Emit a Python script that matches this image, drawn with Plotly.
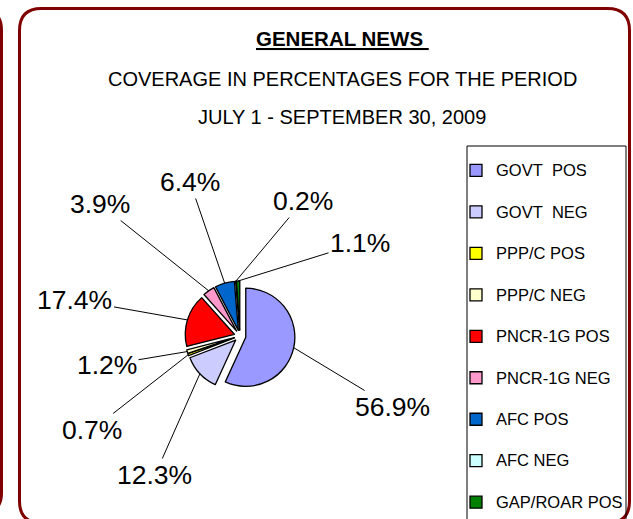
import math
import plotly.graph_objects as go

W, H = 633, 519

# ---- data ----
categories = ["GOVT\u00a0 POS", "GOVT\u00a0 NEG", "PPP/C POS", "PPP/C NEG", "PNCR-1G POS",
              "PNCR-1G NEG", "AFC POS", "AFC NEG", "GAP/ROAR POS"]
values = [56.9, 12.3, 0.7, 1.2, 17.4, 3.9, 6.4, 0.2, 1.1]
colors = ["#9999FF", "#CCCCFF", "#FFFF00", "#FFFFCC", "#FF0000",
          "#FF99CC", "#0066CC", "#CCFFFF", "#008000"]

title_line1 = "GENERAL NEWS"
title_line2 = "COVERAGE IN PERCENTAGES FOR THE PERIOD"
title_line3 = "JULY 1 - SEPTEMBER 30, 2009"

# ---- layout helpers (pixels -> paper) ----
def X(px):
    return px / W

def Y(py):
    return 1 - py / H

FONT = "Liberation Sans, Arial, sans-serif"

# pie geometry
cx, cy = 240, 336
pull = 0.12
half = 55
dom_x = [X(cx - half), X(cx + half)]
dom_y = [Y(cy + half), Y(cy - half)]
r = (2 * half) / (2 + 2 * pull)

# label text centres (pixels)
label_pos = [(392, 407), (155, 475), (92, 430), (107, 365), (75, 300),
             (100, 204), (190, 182), (303, 201), (360, 243)]

legend_labels = ["\u00a0<br><span style='font-size:16.5px'>%s</span>" % c for c in categories]

fig = go.Figure()
fig.add_trace(go.Pie(
    labels=legend_labels,
    values=values,
    sort=False,
    direction="clockwise",
    rotation=0,
    pull=[pull] * len(values),
    marker=dict(colors=colors, line=dict(color="black", width=1.3)),
    textinfo="none",
    hoverinfo="skip",
    domain=dict(x=dom_x, y=dom_y),
    showlegend=True,
))

# leader-line annotations computed from the values
total = sum(values)
annotations = []
cum = 0.0
for v, (lx, ly) in zip(values, label_pos):
    mid = (cum + v / 2) / total * 2 * math.pi
    cum += v
    rr = r * (1 + pull)
    axp = cx + rr * math.sin(mid)
    ayp = cy - rr * math.cos(mid)
    annotations.append(dict(
        x=X(axp), y=Y(ayp), xref="paper", yref="paper",
        text="%.1f%%" % v,
        showarrow=True, arrowhead=0, arrowwidth=1, arrowcolor="black",
        ax=lx - axp, ay=ly - ayp, standoff=0,
        font=dict(family=FONT, size=26.5, color="black"),
    ))

annotations += [
    dict(x=X(342), y=Y(38), xref="paper", yref="paper", showarrow=False,
         xanchor="center", yanchor="middle",
         text="<b><u>%s\u00a0</u></b>" % title_line1,
         font=dict(family=FONT, size=20.5, color="black")),
    dict(x=X(342), y=Y(79), xref="paper", yref="paper", showarrow=False,
         xanchor="center", yanchor="middle",
         text=title_line2, font=dict(family=FONT, size=20, color="black")),
    dict(x=X(342), y=Y(117), xref="paper", yref="paper", showarrow=False,
         xanchor="center", yanchor="middle",
         text=title_line3, font=dict(family=FONT, size=20, color="black")),
]

def rounded(x0, y0, x1, y1, rad):
    return ("M {a},{b} L {c},{b} Q {d},{b} {d},{e} L {d},{f} Q {d},{g} {c},{g} "
            "L {a},{g} Q {h},{g} {h},{f} L {h},{e} Q {h},{b} {a},{b} Z").format(
        a=X(x0 + rad), b=Y(y0), c=X(x1 - rad), d=X(x1), e=Y(y0 + rad),
        f=Y(y1 - rad), g=Y(y1), h=X(x0))

shapes = [
    dict(type="path", xref="paper", yref="paper", path=rounded(19.5, 8.5, 629.5, 523, 22),
         line=dict(color="#800000", width=3)),
    dict(type="path", xref="paper", yref="paper", path=rounded(-200, 10, 1.5, 513, 20),
         line=dict(color="#800000", width=3)),
    dict(type="rect", xref="paper", yref="paper", x0=X(467), x1=X(626), y0=Y(530), y1=Y(146),
         line=dict(color="black", width=1)),
]

fig.update_layout(
    width=W, height=H,
    margin=dict(l=0, r=0, t=0, b=0, autoexpand=False),
    paper_bgcolor="white", plot_bgcolor="white",
    font=dict(family=FONT, color="black"),
    annotations=annotations,
    shapes=shapes,
    legend=dict(x=X(456), y=0, xanchor="left", yanchor="bottom",
                font=dict(family=FONT, size=14.8, color="black"),
                bgcolor="rgba(0,0,0,0)", borderwidth=0, valign="bottom",
                itemclick=False, itemdoubleclick=False),
)

fig.write_html("out.html", config={"displayModeBar": False},
               post_script="document.body.style.margin='0';document.body.style.padding='0';")
